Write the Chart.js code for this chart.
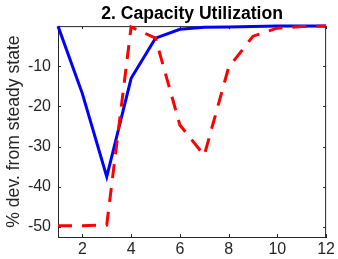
<!DOCTYPE html>
<html>
<head>
<meta charset="utf-8">
<script src="https://cdn.jsdelivr.net/npm/chart.js@4.4.0/dist/chart.umd.min.js"></script>
<style>
  html, body { margin: 0; padding: 0; background: #fff; }
  #wrap { width: 338px; height: 259px; }
</style>
</head>
<body>
<div id="wrap"><canvas id="chart" width="338" height="259"></canvas></div>
<script>
// horizon (quarters) and responses
const STEPS = [1, 2, 3, 4, 5, 6, 7, 8, 9, 10, 11, 12];
const BASELINE = [0, -16.8, -37.5, -13, -3, -0.8, -0.3, -0.2, -0.1, 0, 0, 0];
const ALT = [-49.7, -49.7, -49.5, -0.2, -3, -24.6, -32.2, -10.3, -2.5, -0.5, -0.1, 0];
const X_TICKS = [2, 4, 6, 8, 10, 12];
const Y_TICKS = [-50, -40, -30, -20, -10];

const AXIS_COLOR = '#262626';
const FONT = '"Liberation Sans", Arial, Helvetica, sans-serif';

function toPoints(vals) {
    return STEPS.map((s, i) => ({ x: s, y: vals[i] }));
}

// matlab style box: right + top border and inward tick marks
const boxPlugin = {
    id: 'matlabBox',
    beforeDatasetsDraw(chart) {
        const { ctx, chartArea: a, scales } = chart;
        const tl = 3;
        ctx.save();
        ctx.strokeStyle = AXIS_COLOR;
        ctx.lineWidth = 1;
        ctx.beginPath();
        ctx.moveTo(a.left, a.top + 0.5);
        ctx.lineTo(a.right, a.top + 0.5);
        ctx.moveTo(a.right - 0.5, a.top);
        ctx.lineTo(a.right - 0.5, a.bottom);
        Y_TICKS.forEach(v => {
            const y = Math.round(scales.y.getPixelForValue(v)) + 0.5;
            ctx.moveTo(a.left, y);
            ctx.lineTo(a.left + tl, y);
            ctx.moveTo(a.right, y);
            ctx.lineTo(a.right - tl, y);
        });
        X_TICKS.forEach(v => {
            const x = Math.round(scales.x.getPixelForValue(v)) + 0.5;
            ctx.moveTo(x, a.bottom);
            ctx.lineTo(x, a.bottom - tl);
            ctx.moveTo(x, a.top);
            ctx.lineTo(x, a.top + tl);
        });
        ctx.stroke();
        ctx.restore();
    }
};

new Chart(document.getElementById('chart'), {
    type: 'line',
    data: {
        datasets: [
            {
                data: toPoints(BASELINE),
                borderColor: '#0000ff',
                borderWidth: 3,
                pointRadius: 0,
                tension: 0,
                clip: false,
                order: 1
            },
            {
                data: toPoints(ALT),
                borderColor: '#ff0000',
                borderWidth: 3,
                borderDash: [14, 10],
                pointRadius: 0,
                tension: 0,
                clip: false,
                order: 0
            }
        ]
    },
    options: {
        responsive: false,
        animation: false,
        layout: { padding: { left: 0, right: 10, top: 0, bottom: 0 } },
        plugins: {
            legend: { display: false },
            tooltip: { enabled: false },
            title: {
                display: true,
                text: '2. Capacity Utilization',
                fullSize: false,
                color: '#000',
                font: { family: FONT, size: 17.6, weight: 'bold', lineHeight: 1.2 },
                padding: { top: 4, bottom: 1 }
            }
        },
        scales: {
            x: {
                type: 'linear',
                min: 1,
                max: 12,
                grid: { display: false, drawTicks: false },
                border: { display: true, color: AXIS_COLOR, width: 1 },
                afterBuildTicks: s => { s.ticks = X_TICKS.map(v => ({ value: v })); },
                afterFit: s => { s.height = 22; },
                ticks: {
                    color: AXIS_COLOR,
                    padding: 3,
                    maxRotation: 0,
                    font: { family: FONT, size: 16 }
                }
            },
            y: {
                type: 'linear',
                min: -52.5,
                max: 0,
                grid: { display: false, drawTicks: false },
                border: { display: true, color: AXIS_COLOR, width: 1 },
                afterBuildTicks: s => { s.ticks = Y_TICKS.map(v => ({ value: v })); },
                afterFit: s => { s.width = 58; },
                ticks: {
                    color: AXIS_COLOR,
                    padding: 7,
                    font: { family: FONT, size: 16 }
                },
                title: {
                    display: true,
                    text: '% dev. from steady state',
                    color: AXIS_COLOR,
                    padding: { top: 4, bottom: 0 },
                    font: { family: FONT, size: 17.6, lineHeight: 1.2 }
                }
            }
        }
    },
    plugins: [boxPlugin]
});
</script>
</body>
</html>
